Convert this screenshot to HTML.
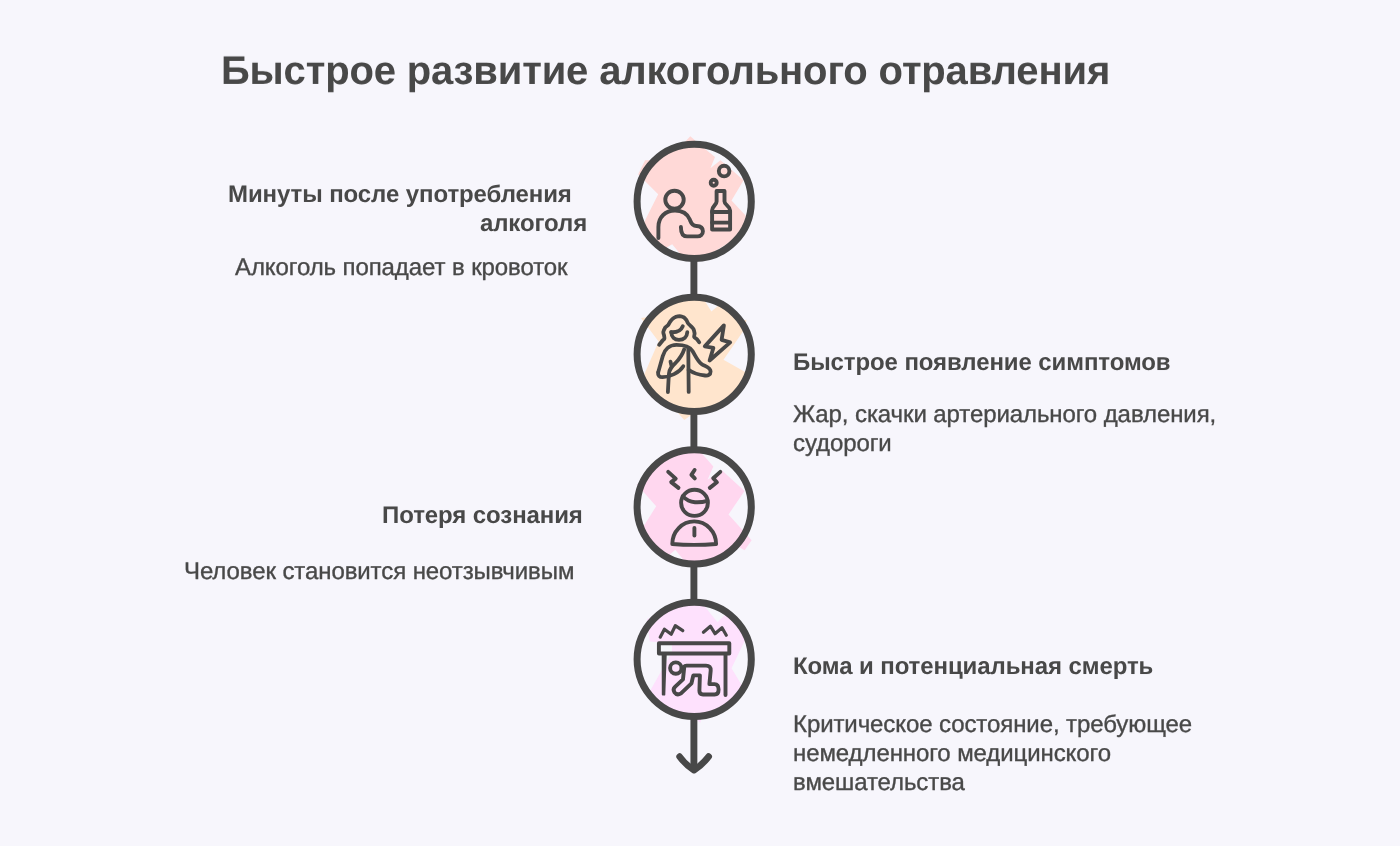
<!DOCTYPE html>
<html lang="ru">
<head>
<meta charset="utf-8">
<title>Быстрое развитие алкогольного отравления</title>
<style>
  html, body { margin: 0; padding: 0; }
  body { width: 1400px; height: 846px; background: #f7f6fc; overflow: hidden; position: relative;
         font-family: "Liberation Sans", sans-serif; color: #484848; }
  svg#art { position: absolute; left: 0; top: 0; width: 1400px; height: 846px; display: block; }
  .t { will-change: transform; transform: rotate(0.01deg); transform-origin: 50% 50%; text-rendering: geometricPrecision; position: absolute; white-space: nowrap; line-height: 28.8px; margin: 0; padding: 0; letter-spacing: -0.0038em; }
  .title { font-size: 40px; font-weight: bold; }
  .h { font-size: 24px; font-weight: bold; }
  .b { font-size: 24px; font-weight: normal; -webkit-text-stroke: 0.35px #484848; }
  .r { text-align: right; }
  .sp { display: inline-block; width: 15.4px; height: 1px; }
  .title { line-height: 40px; }
</style>
</head>
<body>
<svg id="art" viewBox="0 0 1400 846" width="1400" height="846">
  <!-- blobs -->
  <g id="blobs" stroke="none">
    <path id="blob1" fill="#ffd9d7" d="M690.3 136.2 L696 141.2 L704.4 148.6 L715 157.1 L710.4 168.2 L720.5 160.2 L743.6 180.3 L731.5 200.6 L746 216.1 A57 57 0 0 1 736 238.5 L705 257 A57 57 0 0 1 683 257.3 L672.2 244.2 L664 249 A57 57 0 0 1 644 222.5 L658.2 194.3 L638.1 174.2 L645.1 160.2 L652 160 A57 57 0 0 1 684 143 Z"/>
    <path id="blob2" fill="#ffe5cd" d="M641 318 L648 317 A57 57 0 0 1 703 298 L711.4 311.6 L719 305 A57 57 0 0 1 741.5 321.5 L746.4 319.4 L745.6 326 L744 330 L723.5 359.8 L746 372.5 A57 57 0 0 1 692 414.5 L684.3 420 L678 413 A57 57 0 0 1 644.2 374.5 L658.6 341.5 Z"/>
    <path id="blob3" fill="#ffd7ef" d="M636.5 484 L640 484 A57 57 0 0 1 701 452.5 L713.3 466.5 L707.6 479.7 L721.8 470.3 L744.5 491.1 L728.5 514.5 L751.6 540.2 L744.6 550.3 L737 546 A57 57 0 0 1 686 563 L675.3 549.8 L668 556 A57 57 0 0 1 643.5 526.5 L656.2 506.2 Z"/>
    <path id="blob4" fill="#fee1fd" d="M647 619 L650.5 617.5 A57 57 0 0 1 702.4 603.5 L717.5 622.2 L725 615 A57 57 0 0 1 746.5 637 L731.5 668.2 L745 690.5 A57 57 0 0 1 701.5 717 L700.3 723 L696 719 A57 57 0 0 1 650 691 L672 652 L672 643.5 L649.7 641.5 Z"/>
  </g>
  <!-- connectors -->
  <g fill="none" stroke="#484848" stroke-width="6.9" stroke-linecap="round" stroke-linejoin="round">
    <path stroke-linecap="butt" d="M693.9 258 V298 M693.9 411 V450.5 M693.9 563.5 V603 M693.9 716 V767"/>
    <path stroke-width="6.6" d="M679.6 756.6 Q685.4 764.6 694 770.2 Q702.6 764.6 708.7 756.6"/>
  </g>
  <g fill="none" stroke="#484848" stroke-width="7">
    <circle cx="694.2" cy="201.4" r="57.1"/>
    <circle cx="694.2" cy="354.3" r="57.1"/>
    <circle cx="694.2" cy="506.8" r="57.1"/>
    <circle cx="694.2" cy="659.3" r="57.1"/>
  </g>
  <!-- icons -->
  <g fill="none" stroke="#484848" stroke-width="3.9" stroke-linecap="round" stroke-linejoin="round">
    <g id="icon1">
      <ellipse cx="674.5" cy="199.7" rx="9.2" ry="9"/>
      <path d="M658.4 238 V227 C658.4 217 665.5 210.5 675 210.5 C682.5 210.5 687.5 214 689.8 219.5 C690.8 222 691.5 225.9 696.5 226 C700.5 226.1 702.9 228 702.9 231.3 C702.9 234.5 700.5 236.4 697.5 236.4 H687 C683 236.4 680.9 234 680.9 227"/>
      <circle cx="724.1" cy="171.1" r="5.3"/>
      <circle cx="713.7" cy="182.7" r="3"/>
      <path d="M716.6 191 H724.5 V201.5 C724.5 205 730.1 206 730.1 210.5 V229.5 H712.1 V210.5 C712.1 206 716.6 205 716.6 201.5 Z"/>
      <path d="M712.1 212 H730.1 M712.1 222.6 H730.1"/>
    </g>
    <g id="icon2" stroke-width="3.8">
      <path d="M659.1 344.8 C659.7 344.0 661.8 341.5 662.6 340.5 C663.5 339.5 664.2 339.6 664.4 338.7 C664.6 337.9 664.2 336.7 664.1 335.5 C663.9 334.4 663.2 333.3 663.3 332.0 C663.5 330.7 664.4 328.9 665.1 327.7 C665.9 326.6 667.2 326.1 668.0 325.2 C668.7 324.4 669.0 323.5 669.7 322.4 C670.5 321.3 671.5 319.8 672.6 318.9 C673.6 317.9 674.9 317.2 676.1 316.7 C677.3 316.3 678.5 316.2 679.7 316.2 C680.8 316.3 682.1 316.5 683.2 317.1 C684.3 317.6 685.2 318.5 686.0 319.6 C686.9 320.6 687.4 322.4 688.2 323.5 C688.9 324.5 689.8 325.0 690.7 326.0 C691.5 326.9 692.8 327.9 693.5 329.1 C694.1 330.4 694.4 332.1 694.6 333.4 C694.7 334.7 693.8 336.0 694.2 337.0 C694.6 337.9 695.9 338.2 696.7 339.1 C697.5 340.0 698.7 341.7 699.2 342.3"/>
      <path d="M671.2 332.2 C671.5 337 674.5 339.9 679 339.9 C683.8 339.9 687 337 687.3 332.2"/>
      <path d="M671.2 332.2 C676.5 332.5 681 330.5 682.8 326.2"/>
      <path d="M658.2 372.3 C657.6 375.5 659.5 377.2 662.5 377.2 C670 377 679 373 683.3 366.2"/>
      <path d="M658.2 372.3 L662.8 356 C664.5 349.5 669.5 344.9 676.5 344.9 C683 344.9 689 345.5 692.5 351 C695.5 356 697.5 361 701.5 364 C704.5 366.2 710.6 367 710.6 371.5 C710.6 375 708 375.8 705 375.5 C699 375 693 373 688.6 369.8"/>
      <path d="M688.3 348 L688.7 391.9"/>
      <path d="M684.2 349.4 C682.5 354.5 679.5 359 675.5 363 C672 366.3 669.6 368.5 669 373.5 C668.6 378 668.2 386 667.9 392.2"/>
      <path d="M670.5 361.6 L671.3 365"/>
      <path d="M723.9 325.4 L704.8 346.4 L713.4 347.9 L709.6 360.5 L730.2 342.4 L721.6 339.9 Z"/>
    </g>
    <g id="icon3">
      <ellipse cx="694.5" cy="502.8" rx="13.4" ry="13.1"/>
      <path d="M682.8 496.3 C686.5 500.3 690.5 501.9 695 502.2 C700 502.5 704 501.8 707.4 500.8"/>
      <path d="M672.3 544 A21.9 22.6 0 0 1 716.1 544 Q694 545.8 672.3 544 Z"/>
      <path d="M694.4 527.9 V535.6"/>
      <path d="M668.2 471.9 L675.7 478.6 L671.2 482.1 L678.5 487.9"/>
      <path d="M694.6 470 L691.4 474.9 L694.8 478.4"/>
      <path d="M720.3 471.9 L713.2 478.2 L716.9 482.3 L709.8 487.9"/>
    </g>
    <g id="icon4">
      <path stroke-width="3.2" d="M660.2 637.2 L664.4 629.2 L671.2 634.2 L675.3 625.7 L682.8 630.7"/>
      <path stroke-width="3.2" d="M703.4 632.2 L710.4 626.2 L715 633.7 L722 627.7 L726.3 635.2"/>
      <path d="M658.9 643.2 H729.3 V653.5 H658.9 Z"/>
      <path stroke-width="2" fill="#484848" d="M662.7 655 L665.7 655 L664.3 694.6 L662.8 694.6 Z"/>
      <path d="M725.5 655 V695"/>
      <circle cx="675.8" cy="668.1" r="5.7"/>
      <path d="M684.3 666.5 Q684.8 665.6 686.5 665.6 H706 Q711 665.6 710.7 670.5 L709.4 684.1 H714.5 Q718.6 684.3 718.6 689.5 Q718.6 694.5 714.5 694.5 H703 Q699.4 694.5 699.4 690.8 L699.9 675.4 H693.3 L691.5 683.3 L681 693.3 Q677 695.8 674.5 692.3 Q672.5 689.3 675 686.8 L683 679.3 Z"/>
    </g>
  </g>
</svg>

<main>
<h1 class="t title" style="left:221.3px; top:51.3px;">Быстрое развитие алкогольного отравления</h1>

<section class="step">
  <h2 class="t h r" style="right:813px; top:179.9px; line-height:29px;">Минуты после употребления<span class="sp"></span><br>алкоголя</h2>
  <p class="t b r" style="right:832px; top:253.6px;">Алкоголь попадает в кровоток</p>
</section>

<section class="step">
  <h2 class="t h" style="left:793px; top:349.4px;">Быстрое появление симптомов</h2>
  <p class="t b" style="left:792.5px; top:400.8px;">Жар, скачки артериального давления,<br>судороги</p>
</section>

<section class="step">
  <h2 class="t h r" style="right:817px; top:502px;">Потеря сознания</h2>
  <p class="t b r" style="right:825.7px; top:558px;">Человек становится неотзывчивым</p>
</section>

<section class="step">
  <h2 class="t h" style="left:793px; top:652.6px;">Кома и потенциальная смерть</h2>
  <p class="t b" style="left:792.5px; top:710.8px;">Критическое состояние, требующее<br>немедленного медицинского<br>вмешательства</p>
</section>
</main>
</body>
</html>
